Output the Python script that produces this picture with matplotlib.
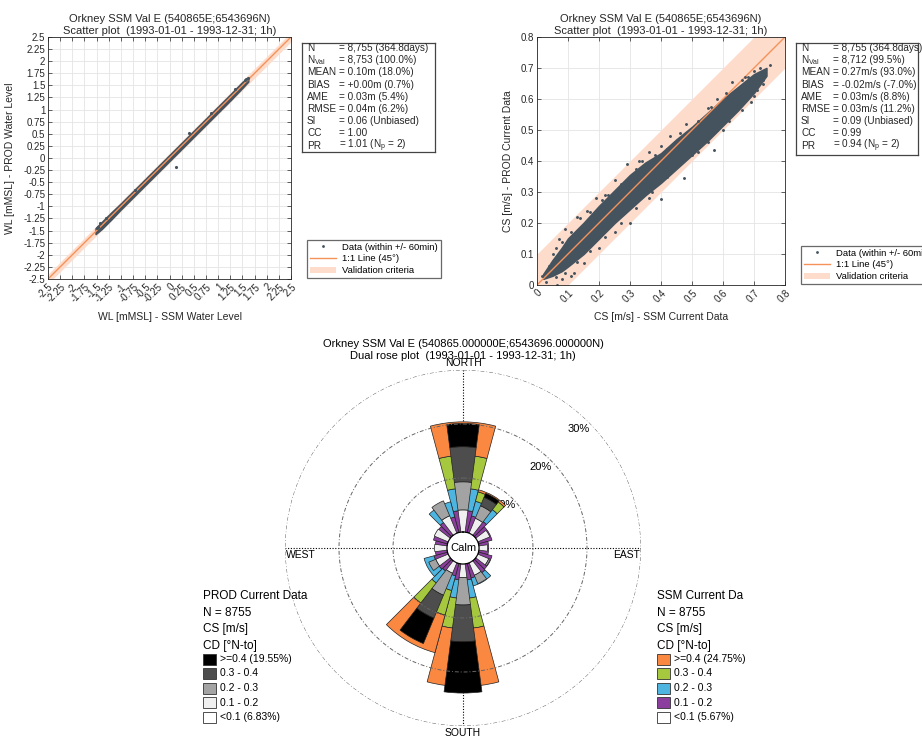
import numpy as np
import matplotlib
matplotlib.use("Agg")
import matplotlib.pyplot as plt
from matplotlib.patches import Rectangle, Patch
from matplotlib.lines import Line2D

plt.rcParams['font.family'] = ['Liberation Sans', 'DejaVu Sans']
plt.rcParams['mathtext.fontset'] = 'custom'
plt.rcParams['mathtext.rm'] = 'Liberation Sans'

W, H = 922, 737

# ---------------- data: water level scatter (dense band + stray points) ----------------
wl_x = [-1.52, -1.40, -1.20, -1.00, -0.75, -0.50, -0.25, 0.00, 0.25, 0.50, 0.75, 1.00, 1.25, 1.50, 1.62]
wl_lo = [-1.57, -1.47, -1.27, -1.06, -0.81, -0.56, -0.31, -0.06, 0.19, 0.44, 0.69, 0.94, 1.19, 1.45, 1.58]
wl_hi = [-1.45, -1.33, -1.13, -0.94, -0.69, -0.44, -0.19, 0.06, 0.31, 0.56, 0.81, 1.06, 1.31, 1.57, 1.66]
wl_pts_x = [0.14, 0.40, -1.50, -1.47, -1.42, 1.58, 1.61, 1.55, -0.72, 0.85, -1.30, 1.35]
wl_pts_y = [-0.18, 0.51, -1.45, -1.42, -1.35, 1.64, 1.65, 1.62, -0.66, 0.92, -1.24, 1.42]
wl_ticks = [-2.5, -2.25, -2, -1.75, -1.5, -1.25, -1, -0.75, -0.5, -0.25, 0,
            0.25, 0.5, 0.75, 1, 1.25, 1.5, 1.75, 2, 2.25, 2.5]

# ---------------- data: current speed scatter ----------------
cs_x = [0.02, 0.05, 0.08, 0.10, 0.15, 0.20, 0.25, 0.30, 0.35, 0.40, 0.45, 0.50, 0.55, 0.60, 0.65, 0.70, 0.74]
cs_lo = [0.02, 0.03, 0.045, 0.06, 0.10, 0.15, 0.20, 0.245, 0.29, 0.33, 0.375, 0.42, 0.465, 0.515, 0.565, 0.62, 0.675]
cs_hi = [0.035, 0.08, 0.12, 0.15, 0.20, 0.255, 0.305, 0.355, 0.395, 0.425, 0.47, 0.51, 0.555, 0.60, 0.64, 0.68, 0.70]
cs_pts_x = [0.015, 0.03, 0.065, 0.04, 0.06, 0.07, 0.09, 0.13, 0.16, 0.19, 0.25, 0.29, 0.36, 0.40,
            0.43, 0.48, 0.55, 0.61, 0.66, 0.72, 0.75, 0.12, 0.15, 0.20, 0.25, 0.30, 0.36, 0.40,
            0.475, 0.50, 0.571, 0.60, 0.64, 0.69, 0.71, 0.73, 0.62, 0.68, 0.08, 0.11, 0.22, 0.33,
            0.05, 0.08, 0.11, 0.14, 0.17, 0.21, 0.23, 0.27, 0.32, 0.34, 0.38, 0.42, 0.46, 0.52,
            0.56, 0.58, 0.63, 0.67, 0.70, 0.06, 0.09, 0.13, 0.17, 0.22, 0.27, 0.32, 0.37, 0.42,
            0.44, 0.52, 0.55, 0.58, 0.62, 0.66, 0.70, 0.73]
cs_pts_y = [0.03, 0.01, 0.0, 0.06, 0.12, 0.15, 0.18, 0.22, 0.24, 0.28, 0.34, 0.39, 0.43, 0.45,
            0.48, 0.52, 0.57, 0.62, 0.66, 0.70, 0.71, 0.04, 0.07, 0.12, 0.17, 0.20, 0.28, 0.277,
            0.344, 0.42, 0.437, 0.50, 0.56, 0.59, 0.63, 0.66, 0.60, 0.67, 0.02, 0.03, 0.29, 0.40,
            0.10, 0.14, 0.17, 0.215, 0.235, 0.275, 0.29, 0.325, 0.375, 0.40, 0.42, 0.44, 0.49, 0.53,
            0.575, 0.60, 0.655, 0.67, 0.69, 0.025, 0.04, 0.075, 0.11, 0.155, 0.20, 0.25, 0.30, 0.35,
            0.37, 0.43, 0.46, 0.50, 0.53, 0.565, 0.61, 0.65]
cs_ticks = [0, 0.1, 0.2, 0.3, 0.4, 0.5, 0.6, 0.7, 0.8]

# ---------------- statistics ----------------
stat_names = ['N', r'N$_{\mathrm{Val}}$', 'MEAN', 'BIAS', 'AME', 'RMSE', 'SI', 'CC', 'PR']
wl_stats = ['= 8,755 (364.8days)', '= 8,753 (100.0%)', '= 0.10m (18.0%)', '= +0.00m (0.7%)',
            '= 0.03m (5.4%)', '= 0.04m (6.2%)', '= 0.06 (Unbiased)', '= 1.00',
            r'= 1.01 (N$_{\mathrm{p}}$ = 2)']
cs_stats = ['= 8,755 (364.8days)', '= 8,712 (99.5%)', '= 0.27m/s (93.0%)', '= -0.02m/s (-7.0%)',
            '= 0.03m/s (8.8%)', '= 0.03m/s (11.2%)', '= 0.09 (Unbiased)', '= 0.99',
            r'= 0.94 (N$_{\mathrm{p}}$ = 2)']

# ---------------- data: dual rose (percent per direction sector) ----------------
directions = [0, 30, 60, 90, 120, 150, 180, 210, 240, 270, 300, 330]
prod_01_02 = [4.1, 3.0, 2.4, 1.6, 2.2, 2.5, 2.5, 2.1, 2.5, 2.3, 2.8, 3.5]
prod_02_03 = [5.2, 2.5, 0.0, 0.0, 0.3, 1.7, 5.1, 4.4, 1.4, 0.0, 0.0, 3.0]
prod_03_04 = [6.5, 1.7, 0.0, 0.0, 0.0, 0.0, 6.8, 4.6, 0.0, 0.0, 0.0, 0.0]
prod_04 = [4.3, 0.8, 0.0, 0.0, 0.0, 0.0, 9.5, 5.1, 0.0, 0.0, 0.0, 0.0]
ssm_01_02 = [4.0, 3.2, 2.6, 1.8, 2.6, 2.8, 3.0, 2.4, 2.6, 2.2, 2.7, 3.0]
ssm_02_03 = [4.1, 2.8, 0.0, 0.0, 0.0, 1.5, 3.4, 2.8, 1.9, 0.0, 0.0, 2.9]
ssm_03_04 = [6.1, 1.8, 0.0, 0.0, 0.0, 0.0, 5.6, 4.7, 0.0, 0.0, 0.0, 0.0]
ssm_04 = [6.2, 0.4, 0.0, 0.0, 0.0, 0.0, 10.7, 7.2, 0.0, 0.0, 0.0, 0.0]
prod_calm, prod_top = 6.83, 19.55
ssm_calm, ssm_top = 5.67, 24.75
bin_labels = ['0.1 - 0.2', '0.2 - 0.3', '0.3 - 0.4', '>=0.4']
prod_colors = ['#F0F0F0', '#A3A3A3', '#4D4D4D', '#000000']
ssm_colors = ['#8B3E9E', '#4DB5E0', '#A6C83E', '#FA8841']

pt_color = '#45535E'
line_color = '#F5925A'
band_color = '#FDDCCB'
dark = '#262626'


def px_rect(x0, y0, x1, y1):
    return [x0 / W, 1 - y1 / H, (x1 - x0) / W, (y1 - y0) / H]


def style_scatter(ax, ticks, lim):
    labels = ['%g' % t for t in ticks]
    ax.set_xlim(lim)
    ax.set_ylim(lim)
    ax.set_xticks(ticks)
    ax.set_yticks(ticks)
    ax.set_xticklabels(labels, rotation=45, ha='right', rotation_mode='anchor')
    ax.set_yticklabels(labels)
    ax.grid(True, color='#E4E4E4', lw=0.6)
    ax.set_axisbelow(True)
    ax.tick_params(direction='in', length=3, width=0.5, top=True, right=True,
                   labelsize=7, color=dark, labelcolor=dark, pad=2)
    for s in ax.spines.values():
        s.set_color(dark)
        s.set_linewidth(0.6)


def stat_box(x0, y0, x1, y1, values):
    bx = fig.add_axes(px_rect(x0, y0, x1, y1))
    bx.set_xticks([])
    bx.set_yticks([])
    for s in bx.spines.values():
        s.set_color('#444444')
        s.set_linewidth(0.9)
    w, h = x1 - x0, y1 - y0
    for i, (name, val) in enumerate(zip(stat_names, values)):
        y = 1 - (5 + i * 12.2) / h
        bx.text(5 / w, y, name, fontsize=7.2, va='center', color=dark)
        bx.text(37 / w, y, val, fontsize=7.2, va='center', color=dark)


def scatter_legend(ax, anchor):
    handles = [Line2D([], [], ls='none', marker='.', ms=2, color=pt_color),
               Line2D([], [], color=line_color, lw=1),
               Patch(facecolor=band_color, edgecolor='none')]
    labels = ['Data (within +/- 60min)', '1:1 Line (45°)', 'Validation criteria']
    leg = ax.legend(handles, labels, loc='lower left', bbox_to_anchor=anchor,
                    bbox_transform=fig.transFigure, fontsize=6.8, frameon=True,
                    fancybox=False, borderaxespad=0, handlelength=2.8,
                    borderpad=0.3, labelspacing=0.3, handletextpad=0.6)
    leg.get_frame().set_edgecolor('#444444')
    leg.get_frame().set_linewidth(0.9)


fig = plt.figure(figsize=(W / 100, H / 100), dpi=100)

# ---------------- left scatter: water level ----------------
ax1 = fig.add_axes(px_rect(48, 37, 291, 279))
ax1.fill_between([-2.5, 2.5], [-2.6, 2.4], [-2.4, 2.6], color=band_color, lw=0)
ax1.plot([-2.5, 2.5], [-2.5, 2.5], color=line_color, lw=1)
ax1.fill_between(wl_x, wl_lo, wl_hi, color=pt_color, lw=1.2)
ax1.plot(wl_pts_x, wl_pts_y, ls='none', marker='.', ms=2.5, color=pt_color)
style_scatter(ax1, wl_ticks, (-2.5, 2.5))
ax1.text(0.5, 1.004, 'Orkney SSM Val E (540865E;6543696N)\nScatter plot  (1993-01-01 - 1993-12-31; 1h)',
         transform=ax1.transAxes, ha='center', va='bottom', fontsize=8, color=dark, linespacing=1.25)
ax1.set_xlabel('WL [mMSL] - SSM Water Level', fontsize=7.5, color=dark)
ax1.xaxis.set_label_coords(0.5, -(312 - 279) / 242)
ax1.set_ylabel('WL [mMSL] - PROD Water Level', fontsize=7.5, color=dark)
ax1.yaxis.set_label_coords(-(48 - 15) / 243, 0.5)
stat_box(302, 43, 435, 152, wl_stats)
scatter_legend(ax1, (307 / W, 1 - 278 / H))

# ---------------- right scatter: current speed ----------------
ax2 = fig.add_axes(px_rect(537, 37, 785, 285))
ax2.fill_between([0, 0.8], [-0.1, 0.7], [0.1, 0.9], color=band_color, lw=0)
ax2.plot([0, 0.8], [0, 0.8], color=line_color, lw=1)
ax2.fill_between(cs_x, cs_lo, cs_hi, color=pt_color, lw=1.2)
ax2.plot(cs_pts_x, cs_pts_y, ls='none', marker='.', ms=2.2, color=pt_color)
style_scatter(ax2, cs_ticks, (0, 0.8))
ax2.text(0.5, 1.004, 'Orkney SSM Val E (540865E;6543696N)\nScatter plot  (1993-01-01 - 1993-12-31; 1h)',
         transform=ax2.transAxes, ha='center', va='bottom', fontsize=8, color=dark, linespacing=1.25)
ax2.set_xlabel('CS [m/s] - SSM Current Data', fontsize=7.5, color=dark)
ax2.xaxis.set_label_coords(0.5, -(312 - 285) / 248)
ax2.set_ylabel('CS [m/s] - PROD Current Data', fontsize=7.5, color=dark)
ax2.yaxis.set_label_coords(-(537 - 513) / 248, 0.5)
stat_box(796, 43, 918, 155, cs_stats)
scatter_legend(ax2, (801 / W, 1 - 284 / H))

# ---------------- dual rose ----------------
axr = fig.add_axes(px_rect(285, 370, 641, 726), projection='polar')
axr.set_theta_zero_location('N')
axr.set_theta_direction(-1)
axr.set_ylim(0, 30)
axr.set_rorigin(-2.96)
axr.set_xticks([])
axr.set_yticks([])
axr.grid(False)
for s in axr.spines.values():
    s.set_visible(False)

theta = np.radians(directions)
for ang in [0, 90, 180, 270]:
    axr.plot([np.radians(ang)] * 2, [0, 30], color='k', ls=(0, (1, 1.5)), lw=0.8, zorder=1)

ssm_bins = [ssm_01_02, ssm_02_03, ssm_03_04, ssm_04]
prod_bins = [prod_01_02, prod_02_03, prod_03_04, prod_04]
bottom = np.zeros(len(directions))
for vals, col in zip(ssm_bins, ssm_colors):
    v = np.array(vals)
    m = v > 0
    axr.bar(theta[m], v[m], width=np.radians(30), bottom=bottom[m], color=col,
            edgecolor='#222222', lw=0.5, zorder=2)
    bottom += v
bottom = np.zeros(len(directions))
for vals, col in zip(prod_bins, prod_colors):
    v = np.array(vals)
    m = v > 0
    axr.bar(theta[m], v[m], width=np.radians(15), bottom=bottom[m], color=col,
            edgecolor='#222222', lw=0.5, zorder=3)
    bottom += v

ring_t = np.linspace(0, 2 * np.pi, 361)
for r in [10, 20, 30]:
    axr.plot(ring_t, np.full_like(ring_t, r), color='#666666', lw=0.7,
             ls=(0, (4, 2, 1, 2)), zorder=4)
axr.plot(ring_t, np.zeros_like(ring_t), color='k', lw=0.8, zorder=4)
for r, lab in [(8.1, '10%'), (17.8, '20%'), (27.8, '30%')]:
    axr.text(np.radians(44), r, lab, fontsize=8, ha='center', va='center', zorder=1.5)
axr.text(0.5, 0.5, 'Calm', transform=axr.transAxes, ha='center', va='center', fontsize=8, zorder=5)

fig.text(463 / W, 1 - 363 / H, 'NORTH', ha='center', va='center', fontsize=7.5)
fig.text(463 / W, 1 - 733 / H, 'SOUTH', ha='center', va='center', fontsize=7.5)
fig.text(640 / W, 1 - 555 / H, 'EAST', ha='right', va='center', fontsize=7.5)
fig.text(286 / W, 1 - 555 / H, 'WEST', ha='left', va='center', fontsize=7.5)
fig.text(463 / W, 1 - 350 / H,
         'Orkney SSM Val E (540865.000000E;6543696.000000N)\nDual rose plot  (1993-01-01 - 1993-12-31; 1h)',
         ha='center', va='center', fontsize=8, linespacing=1.3)


def rose_legend(x, title, calm, top, colors):
    heads = [title, 'N = 8755', 'CS [m/s]', 'CD [°N-to]']
    for i, t in enumerate(heads):
        fig.text(x / W, 1 - (596 + i * 16.5) / H, t, fontsize=8.5, va='center', ha='left')
    names = ['>=0.4 (%.2f%%)' % top, bin_labels[2], bin_labels[1], bin_labels[0], '<0.1 (%.2f%%)' % calm]
    cols = list(colors[::-1]) + ['#FFFFFF']
    for i, (nm, c) in enumerate(zip(names, cols)):
        yc = 659 + i * 14.5
        fig.add_artist(Rectangle((x / W, 1 - (yc + 5.5) / H), 13 / W, 11 / H,
                                 transform=fig.transFigure, facecolor=c,
                                 edgecolor='#333333', lw=0.6))
        fig.text((x + 17) / W, 1 - yc / H, nm, fontsize=7.5, va='center', ha='left')


rose_legend(203, 'PROD Current Data', prod_calm, prod_top, prod_colors)
rose_legend(657, 'SSM Current Da', ssm_calm, ssm_top, ssm_colors)

fig.savefig('out.png', dpi=100)
